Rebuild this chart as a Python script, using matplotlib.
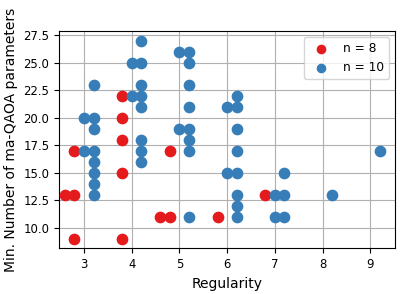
import matplotlib
matplotlib.use("Agg")
import matplotlib.pyplot as plt

# n = 8 results
reg_n8 = [2.6, 2.8, 2.8, 2.8, 3.8, 3.8, 3.8, 3.8, 3.8, 4.8, 4.6, 4.8, 5.8, 6.8]
par_n8 = [13, 13, 17, 9, 22, 20, 18, 15, 9, 17, 11, 11, 11, 13]

# n = 10 results
reg_n10 = [3.0, 3.0, 3.2, 3.2, 3.2, 3.2, 3.2, 3.2, 3.2, 3.2,
           4.0, 4.0, 4.2, 4.2, 4.2, 4.2, 4.2, 4.2, 4.2, 4.2,
           5.0, 5.0, 5.2, 5.2, 5.2, 5.2, 5.2, 5.2, 5.2, 5.2,
           6.0, 6.0, 6.2, 6.2, 6.2, 6.2, 6.2, 6.2, 6.2, 6.2,
           7.0, 7.0, 7.2, 7.2, 7.2, 8.2, 9.2]
par_n10 = [20, 17, 23, 20, 19, 17, 16, 15, 14, 13,
           25, 22, 27, 25, 23, 22, 21, 18, 17, 16,
           26, 19, 26, 25, 23, 21, 19, 18, 17, 11,
           21, 15, 22, 21, 19, 17, 15, 13, 12, 11,
           13, 11, 15, 13, 11, 13, 17]

fig, ax = plt.subplots(figsize=(4.0, 2.94), dpi=100)
ax.scatter(reg_n8, par_n8, s=55, color="#e41a1c", label="n = 8", zorder=3)
ax.scatter(reg_n10, par_n10, s=55, color="#377eb8", label="n = 10", zorder=3)
ax.grid(True, color="#b0b0b0", linewidth=0.8)
ax.set_axisbelow(True)
ax.set_xlim(2.48, 9.52)
ax.set_xlabel("Regularity", fontsize=10)
ax.set_ylabel("Min. Number of ma-QAOA parameters", fontsize=10)
ax.tick_params(labelsize=8.4)
ax.legend(fontsize=8.8, loc="upper right", markerscale=0.8)
fig.subplots_adjust(left=0.148, right=0.988, top=0.895, bottom=0.155)
fig.savefig("out.png", dpi=100)
